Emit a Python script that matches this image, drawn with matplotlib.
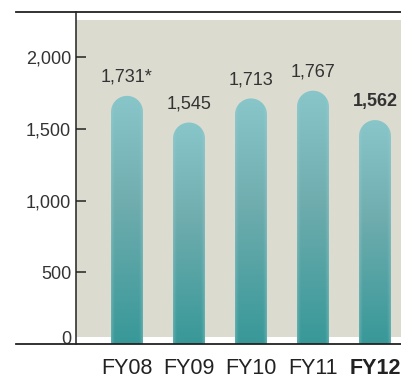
import numpy as np
import matplotlib
matplotlib.use("Agg")
import matplotlib.pyplot as plt
from matplotlib.path import Path
from matplotlib.patches import PathPatch, Rectangle
from matplotlib.lines import Line2D
from matplotlib.colors import to_rgb
from matplotlib.transforms import ScaledTranslation

plt.rcParams['font.family'] = ['Liberation Sans', 'DejaVu Sans']

years = ["FY08", "FY09", "FY10", "FY11", "FY12"]
values = [1731, 1545, 1713, 1767, 1562]
value_labels = ["1,731*", "1,545", "1,713", "1,767", "1,562"]
yticks = [0, 500, 1000, 1500, 2000]
ytick_labels = ["0", "500", "1,000", "1,500", "2,000"]

W, H = 402, 379
fig = plt.figure(figsize=(W / 100, H / 100), dpi=100)

# axes box in pixels: left spine at x=76, top at y=12, bottom at y=344
ax_l, ax_t, ax_b = 76, 12, 344
ax = fig.add_axes([ax_l / W, 1 - ax_b / H, (W - ax_l) / W, (ax_b - ax_t) / H])

px_per_y = 286.7 / 2000
ymax = (ax_b - ax_t) / px_per_y
xmin, xmax = -51 / 62, 275 / 62
ax.set_xlim(xmin, xmax)
ax.set_ylim(0, ymax)
ax.set_facecolor("white")

# beige panel behind the bars
ax.add_patch(Rectangle((xmin, 7 / px_per_y), xmax - xmin, (324 - 7) / px_per_y,
                       facecolor="#dcdbd0", edgecolor="none", zorder=0))

bar_w = 32 / 62
rx = bar_w / 2
ry = 16 / px_per_y

# colour ramp for the bars, top -> bottom
stops = [(0.0, "#88c6ca"), (0.45, "#6eacae"), (1.0, "#389898")]


def ramp(t):
    pos = [s[0] for s in stops]
    cols = np.array([to_rgb(s[1]) for s in stops])
    return np.stack([np.interp(t, pos, cols[:, k]) for k in range(3)], axis=-1)


for i, v in enumerate(values):
    x0, x1 = i - rx, i + rx
    # outline: straight sides with a rounded cap on top
    th = np.linspace(0, np.pi, 40)
    cap = np.column_stack([i + rx * np.cos(th), v - ry + ry * np.sin(th)])
    verts = np.vstack([[x1, 0], cap, [x0, 0], [x1, 0]])
    codes = [Path.MOVETO] + [Path.LINETO] * (len(verts) - 2) + [Path.CLOSEPOLY]
    clip = PathPatch(Path(verts, codes), facecolor="none", edgecolor="none")
    ax.add_patch(clip)

    n_y = int(v * px_per_y) + 1
    t = np.linspace(0, 1, n_y)
    img = ramp(t)[:, None, :] * np.ones((1, 32, 1))
    # soft, lighter edges on both sides
    u = np.abs(np.linspace(-1, 1, 32))
    edge = np.clip((u - 0.75) / 0.25, 0, 1) ** 1.5 * 0.35
    img = img * (1 - edge[None, :, None]) + np.array(to_rgb("#9fd0d2")) * edge[None, :, None]
    im = ax.imshow(img, extent=[x0, x1, 0, v], aspect="auto", origin="upper",
                   interpolation="bilinear", zorder=2)
    im.set_clip_path(clip)

    ax.annotate(value_labels[i], (i, v), xytext=(0, 14), textcoords="offset pixels",
                ha="center", va="baseline", fontsize=13, color="#333333",
                fontweight="bold" if i == len(values) - 1 else "normal")

ax.set_xticks(range(len(years)))
ax.set_xticklabels(years, fontsize=15.5, color="#222222")
ax.get_xticklabels()[-1].set_fontweight("bold")
ax.tick_params(axis="x", length=0, pad=10)

ax.set_yticks(yticks)
ax.set_yticklabels(ytick_labels, fontsize=13, color="#333333")
ax.tick_params(axis="y", direction="in", length=7.5, width=1.1, color="#222222", pad=3.5)
ytk = ax.yaxis.get_major_ticks()[0]
ytk.tick1line.set_visible(False)
ytk.label1.set_transform(ytk.label1.get_transform() + ScaledTranslation(0, 7 / 100, fig.dpi_scale_trans))

for s in ["top", "right", "bottom"]:
    ax.spines[s].set_visible(False)
ax.spines["left"].set_color("#222222")
ax.spines["left"].set_linewidth(1.1)

# full-width rules at the top and bottom of the chart
for yp in (ax_t, ax_b):
    fig.add_artist(Line2D([16 / W, 1], [1 - yp / H] * 2, color="#222222", lw=1.3))

fig.savefig("out.png", dpi=100)
